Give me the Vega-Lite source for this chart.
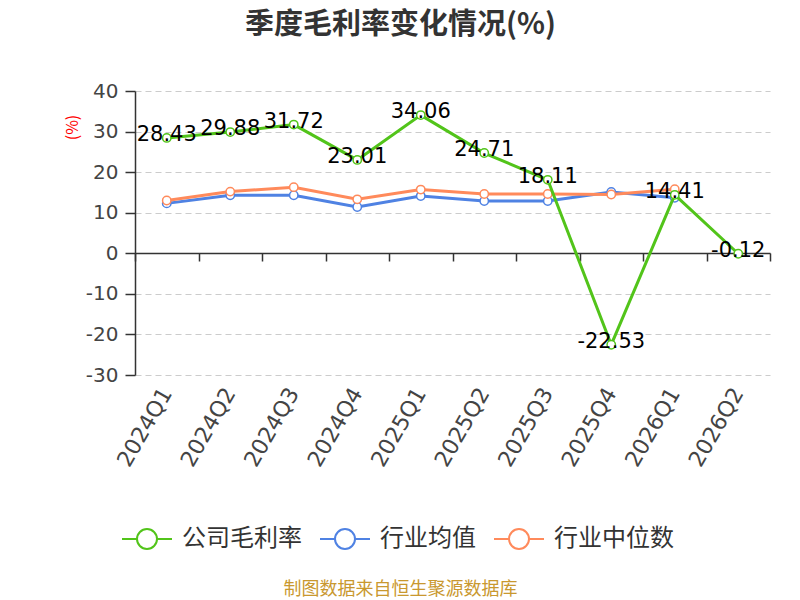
{
  "$schema": "https://vega.github.io/schema/vega-lite/v6.json",
  "width": 635,
  "height": 284,
  "autosize": "none",
  "padding": {"left": 135, "top": 91, "right": 30, "bottom": 225},
  "background": "white",
  "title": {
    "text": "季度毛利率变化情况(%)",
    "font": "Noto Sans CJK SC",
    "fontSize": 29,
    "fontWeight": "bold",
    "color": "#333333",
    "anchor": "middle",
    "dx": -52,
    "offset": 41
  },
  "data": {
    "values": [
      {"q": "2024Q1", "series": "公司毛利率", "value": 28.43},
      {"q": "2024Q2", "series": "公司毛利率", "value": 29.88},
      {"q": "2024Q3", "series": "公司毛利率", "value": 31.72},
      {"q": "2024Q4", "series": "公司毛利率", "value": 23.01},
      {"q": "2025Q1", "series": "公司毛利率", "value": 34.06},
      {"q": "2025Q2", "series": "公司毛利率", "value": 24.71},
      {"q": "2025Q3", "series": "公司毛利率", "value": 18.11},
      {"q": "2025Q4", "series": "公司毛利率", "value": -22.53},
      {"q": "2026Q1", "series": "公司毛利率", "value": 14.41},
      {"q": "2026Q2", "series": "公司毛利率", "value": -0.12},
      {"q": "2024Q1", "series": "行业均值", "value": 12.3},
      {"q": "2024Q2", "series": "行业均值", "value": 14.3},
      {"q": "2024Q3", "series": "行业均值", "value": 14.3},
      {"q": "2024Q4", "series": "行业均值", "value": 11.4},
      {"q": "2025Q1", "series": "行业均值", "value": 14.1},
      {"q": "2025Q2", "series": "行业均值", "value": 12.9},
      {"q": "2025Q3", "series": "行业均值", "value": 12.9},
      {"q": "2025Q4", "series": "行业均值", "value": 15.1},
      {"q": "2026Q1", "series": "行业均值", "value": 13.7},
      {"q": "2024Q1", "series": "行业中位数", "value": 13.0},
      {"q": "2024Q2", "series": "行业中位数", "value": 15.2},
      {"q": "2024Q3", "series": "行业中位数", "value": 16.3},
      {"q": "2024Q4", "series": "行业中位数", "value": 13.3},
      {"q": "2025Q1", "series": "行业中位数", "value": 15.7},
      {"q": "2025Q2", "series": "行业中位数", "value": 14.6},
      {"q": "2025Q3", "series": "行业中位数", "value": 14.6},
      {"q": "2025Q4", "series": "行业中位数", "value": 14.5},
      {"q": "2026Q1", "series": "行业中位数", "value": 15.8}
    ]
  },
  "encoding": {
    "y": {
      "field": "value",
      "type": "quantitative",
      "scale": {"domain": [-30, 40], "nice": false, "zero": false},
      "axis": {
        "values": [-30, -20, -10, 0, 10, 20, 30, 40],
        "format": "d",
        "title": "(%)",
        "titleColor": "red",
        "titleFont": "Noto Sans CJK SC",
        "titleFontSize": 16,
        "titleFontWeight": "normal",
        "titleAngle": -90,
        "titleX": -63,
        "titleY": 36,
        "titleAlign": "center",
        "titleBaseline": "middle",
        "labelFont": "DejaVu Sans",
        "labelFontSize": 20,
        "labelColor": "#444444",
        "labelPadding": 7,
        "domainColor": "#333333",
        "domainWidth": 1.5,
        "tickColor": "#333333",
        "tickWidth": 1.5,
        "tickSize": 10,
        "grid": true,
        "gridColor": "#cccccc",
        "gridDash": [6, 4],
        "gridWidth": 1.2
      }
    }
  },
  "layer": [
    {
      "transform": [{"filter": "datum.series !== '公司毛利率'"}],
      "mark": {
        "type": "line",
        "strokeWidth": 3,
        "point": {"filled": false, "fill": "white", "size": 70, "strokeWidth": 1.5}
      },
      "encoding": {
        "x": {
          "field": "q",
          "type": "ordinal",
          "scale": {"type": "band", "paddingInner": 0, "paddingOuter": 0},
          "axis": {
            "orient": "bottom",
            "domain": false,
            "ticks": false,
            "grid": false,
            "labelAngle": -60,
            "labelAlign": "right",
            "labelBaseline": "middle",
            "labelFont": "DejaVu Sans",
            "labelFontSize": 22,
            "labelColor": "#444444",
            "labelPadding": 14,
            "title": "制图数据来自恒生聚源数据库",
            "titleFont": "Noto Sans CJK SC",
            "titleColor": "#c9982f",
            "titleFontSize": 18,
            "titleFontWeight": "normal",
            "titleX": 265,
            "titleY": 214,
            "titleAlign": "center",
            "titleBaseline": "middle"
          }
        },
        "color": {
          "field": "series",
          "type": "nominal",
          "scale": {
            "domain": ["公司毛利率", "行业均值", "行业中位数"],
            "range": ["#52c41a", "#4f82e3", "#ff8a5b"]
          },
          "legend": {
            "title": null,
            "orient": "none",
            "direction": "horizontal",
            "legendX": -14,
            "legendY": 422,
            "symbolType": "M-1,0L-0.4,0M0.4,0A0.4,0.4,0,1,1,-0.4,0A0.4,0.4,0,1,1,0.4,0M0.4,0L1,0",
            "symbolSize": 2500,
            "symbolStrokeWidth": 2,
            "symbolFillColor": "white",
            "labelFont": "Noto Sans CJK SC",
            "labelFontSize": 24,
            "labelColor": "#333333",
            "labelOffset": 9,
            "columnPadding": 14
          }
        }
      }
    },
    {
      "transform": [{"filter": "datum.series === '公司毛利率'"}],
      "mark": {
        "type": "line",
        "strokeWidth": 3,
        "point": {"filled": false, "fill": "white", "size": 70, "strokeWidth": 1.5}
      },
      "encoding": {
        "x": {
          "field": "q",
          "type": "ordinal",
          "axis": {
            "orient": "bottom",
            "offset": -122,
            "labels": false,
            "title": null,
            "grid": false,
            "domain": true,
            "domainColor": "#333333",
            "domainWidth": 1.5,
            "ticks": true,
            "tickBand": "extent",
            "tickColor": "#333333",
            "tickWidth": 1.5,
            "tickSize": 8,
            "zindex": 0
          }
        },
        "color": {"field": "series", "type": "nominal"}
      }
    },
    {
      "transform": [{"filter": "datum.series === '公司毛利率'"}],
      "mark": {
        "type": "text",
        "font": "DejaVu Sans",
        "fontSize": 21,
        "dy": -3,
        "baseline": "middle",
        "align": "center",
        "color": "#000000"
      },
      "encoding": {
        "x": {"field": "q", "type": "ordinal", "axis": null},
        "text": {"field": "value", "type": "quantitative", "format": ".2f"}
      }
    }
  ],
  "resolve": {"axis": {"x": "independent"}},
  "config": {
    "font": "Noto Sans CJK SC",
    "locale": {
      "number": {
        "decimal": ".",
        "thousands": ",",
        "grouping": [3],
        "currency": ["", ""],
        "minus": "-"
      }
    },
    "view": {"stroke": null},
    "axisY": {"zindex": 0}
  }
}
